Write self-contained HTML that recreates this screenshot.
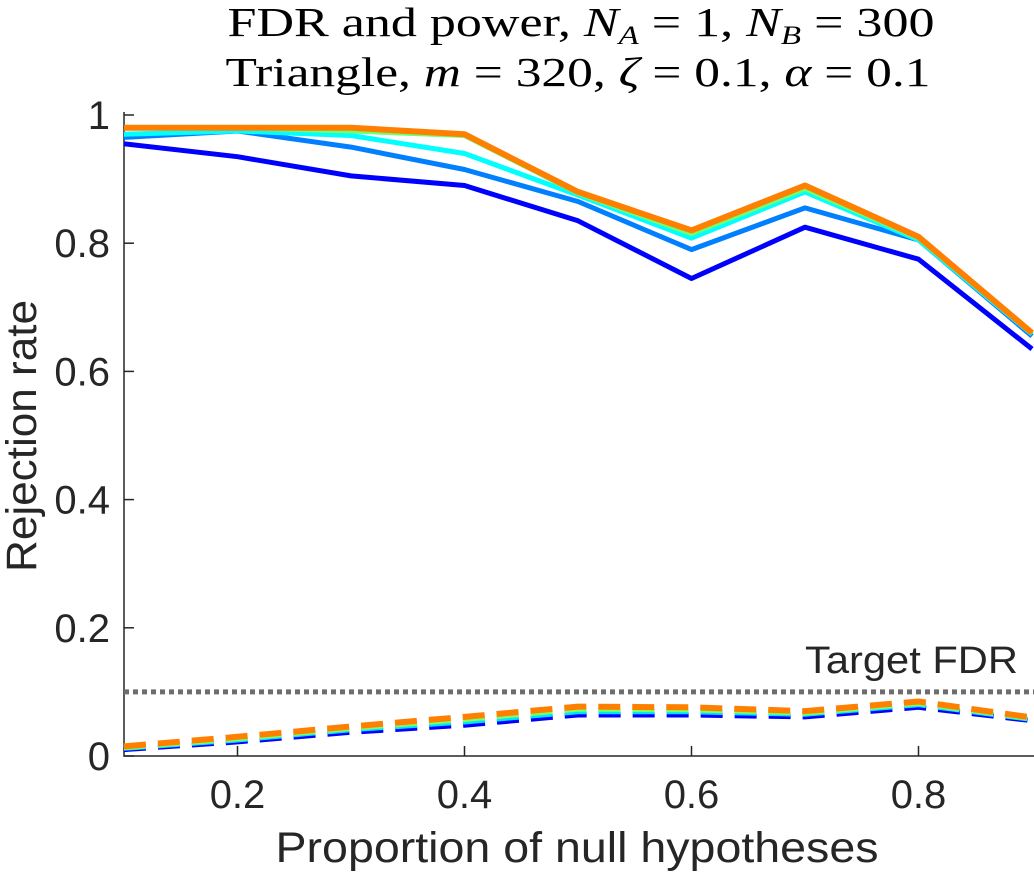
<!DOCTYPE html>
<html><head><meta charset="utf-8"><style>
body{margin:0;background:#fff}
svg text{font-family:"Liberation Sans",sans-serif;fill:#262626}
</style></head><body>
<svg id="c" width="1034" height="878" viewBox="0 0 1034 878" xmlns="http://www.w3.org/2000/svg">
<g font-size="41" text-anchor="middle">
<text x="581" y="36" textLength="707" lengthAdjust="spacingAndGlyphs" style="font-family:'Liberation Serif',serif;fill:#000">FDR and power, <tspan font-style="italic">N</tspan><tspan font-size="26" font-style="italic" dy="8">A</tspan><tspan dy="-8"> = 1, </tspan><tspan font-style="italic">N</tspan><tspan font-size="26" font-style="italic" dy="8">B</tspan><tspan dy="-8"> = 300</tspan></text>
<text x="578" y="86" textLength="705" lengthAdjust="spacingAndGlyphs" style="font-family:'Liberation Serif',serif;fill:#000">Triangle, <tspan font-style="italic">m</tspan> = 320, <tspan font-style="italic">ζ</tspan> = 0.1, <tspan font-style="italic">α</tspan> = 0.1</text>
</g>
<g id="axes"></g>
<g id="marks"></g>
<text x="577" y="862" font-size="43" text-anchor="middle" textLength="603" lengthAdjust="spacingAndGlyphs">Proportion of null hypotheses</text>
<text transform="translate(36,436) rotate(-90)" font-size="43" text-anchor="middle" textLength="272" lengthAdjust="spacingAndGlyphs">Rejection rate</text>
<text x="1018" y="673" font-size="38" text-anchor="end" textLength="213" lengthAdjust="spacingAndGlyphs">Target FDR</text>
</svg>
<script>
const xs=[0.1,0.2,0.3,0.4,0.5,0.6,0.7,0.8,0.9];
const powOrange=[0.98,0.98,0.98,0.97,0.88,0.82,0.89,0.81,0.66];
const powGreen=[0.98,0.98,0.975,0.968,0.878,0.815,0.885,0.808,0.66];
const powCyan=[0.97,0.975,0.968,0.94,0.875,0.808,0.88,0.805,0.658];
const powLightBlue=[0.965,0.975,0.95,0.915,0.865,0.79,0.855,0.805,0.655];
const powBlue=[0.955,0.935,0.905,0.89,0.835,0.745,0.825,0.775,0.635];
const fdrOrange=[0.015,0.03,0.046,0.061,0.077,0.076,0.07,0.085,0.06];
const fdrGreen=[0.013,0.027,0.043,0.057,0.073,0.072,0.067,0.082,0.058];
const fdrCyan=[0.012,0.025,0.041,0.053,0.069,0.069,0.065,0.08,0.057];
const fdrBlue=[0.01,0.022,0.037,0.048,0.064,0.064,0.061,0.076,0.055];
const target=0.1;
const xTicks=[0.2,0.4,0.6,0.8];
const yTicks=[0,0.2,0.4,0.6,0.8,1];
const yTickLabels=["0","0.2","0.4","0.6","0.8","1"];
const X=v=>124+(v-0.1)*1135;
const Y=v=>756-v*641;
const NS="http://www.w3.org/2000/svg";
function mk(p,t,a){const e=document.createElementNS(NS,t);for(const k in a)e.setAttribute(k,a[k]);p.appendChild(e);return e;}
const ax=document.getElementById('axes'),mg=document.getElementById('marks');
let e=mk(ax,'path',{d:`M124,112V756H1034`,fill:'none',stroke:'#262626','stroke-width':1.5});


xTicks.forEach(v=>{
 let t=mk(ax,'line',{x1:X(v),x2:X(v),y1:756,y2:746,stroke:'#262626','stroke-width':1.5});
 
 
 let l=mk(ax,'text',{x:X(v),y:808,'font-size':40,'text-anchor':'middle'});l.textContent=String(v);
 
 
});
yTicks.forEach((v,i)=>{
 let t=mk(ax,'line',{x1:124,x2:134,y1:Y(v),y2:Y(v),stroke:'#262626','stroke-width':1.5});
 
 
 let l=mk(ax,'text',{x:110,y:Y(v)+14,'font-size':40,'text-anchor':'end'});l.textContent=yTickLabels[i];
 
 
});
e=mk(mg,'line',{x1:124,x2:1034,y1:Y(target),y2:Y(target),stroke:'#6e6e6e','stroke-width':5,'stroke-dasharray':'5 4'});


function line(data,color,name,dash,w){
 const d=data.map((v,i)=>(i?'L':'M')+X(xs[i]).toFixed(1)+','+Y(v).toFixed(1)).join('');
 const a={d,fill:'none',stroke:color,'stroke-width':w,'stroke-linejoin':'round'};
 if(dash)a['stroke-dasharray']=dash;
 const p=mk(mg,'path',a);
 
 
}
line(fdrBlue,'#0000ff','fdr-line-blue','22 12',5);
line(fdrCyan,'#00e5ff','fdr-line-cyan','22 12',5);
line(fdrGreen,'#7fff60','fdr-line-green','22 12',5);
line(fdrOrange,'#ff8000','fdr-line-orange','22 12',6);
line(powBlue,'#0000ff','power-line-blue',null,5);
line(powLightBlue,'#0080ff','power-line-lightblue',null,5);
line(powCyan,'#00ffff','power-line-cyan',null,5);
line(powGreen,'#70ff70','power-line-green',null,5);
line(powOrange,'#ff8000','power-line-orange',null,6);
</script>
</body></html>
